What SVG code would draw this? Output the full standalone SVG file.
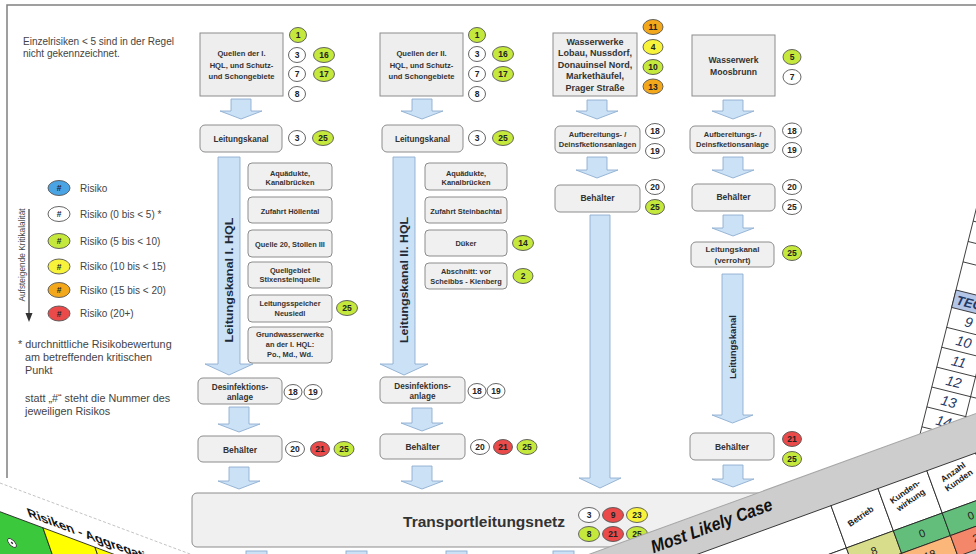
<svg xmlns="http://www.w3.org/2000/svg" width="976" height="554" viewBox="0 0 976 554">
<defs>
<style>
text{font-family:"Liberation Sans",Arial,sans-serif}
.sq{fill:#eeeeee;stroke:#8c8c8c;stroke-width:1}
.rb{fill:#f0f0f0;stroke:#8c8c8c;stroke-width:1}
.t{font-weight:bold;fill:#333;text-anchor:middle}
.ar{fill:#cae1f6;stroke:#8eaed0;stroke-width:0.9}
.bd{stroke:#555;stroke-width:0.9}
.w{fill:#fff}.g{fill:#c4e83c}.y{fill:#f7f23a}.o{fill:#f3a81c}.r{fill:#ea4a4a}.bl{fill:#4aa3e3}
.bt{font-weight:bold;font-size:8.5px;fill:#222;text-anchor:middle}
.lg{font-size:10px;fill:#444}
.fn{font-size:10.8px;fill:#444}
.vt{font-weight:bold;fill:#1f2a38;text-anchor:middle}
.cl{stroke:#222;stroke-width:0.8}
</style>
</defs>
<rect width="976" height="554" fill="#fff"/>
<path d="M7,478 V5 H976" stroke="#808080" stroke-width="1.5" fill="none"/>

<!-- legend -->
<g id="legend">
<text class="lg" x="23" y="45">Einzelrisiken &lt; 5 sind in der Regel</text>
<text class="lg" x="23" y="57">nicht gekennzeichnet.</text>
<ellipse class="bd bl" cx="59" cy="188" rx="11" ry="7.5"/><text class="bt" x="59" y="191">#</text><text class="lg" x="80" y="191.5">Risiko</text>
<ellipse class="bd w" cx="59" cy="214" rx="11" ry="7.5"/><text class="bt" x="59" y="217">#</text><text class="lg" x="80" y="217.5">Risiko (0 bis &lt; 5) *</text>
<ellipse class="bd g" cx="59" cy="241" rx="11" ry="7.5"/><text class="bt" x="59" y="244">#</text><text class="lg" x="80" y="244.5">Risiko (5 bis &lt; 10)</text>
<ellipse class="bd y" cx="59" cy="266.5" rx="11" ry="7.5"/><text class="bt" x="59" y="269.5">#</text><text class="lg" x="80" y="270">Risiko (10 bis &lt; 15)</text>
<ellipse class="bd o" cx="59" cy="290" rx="11" ry="7.5"/><text class="bt" x="59" y="293">#</text><text class="lg" x="80" y="293.5">Risiko (15 bis &lt; 20)</text>
<ellipse class="bd r" cx="59" cy="313.5" rx="11" ry="7.5"/><text class="bt" x="59" y="316.5">#</text><text class="lg" x="80" y="317">Risiko (20+)</text>
<line x1="29" y1="209" x2="29" y2="314" stroke="#333" stroke-width="1.2"/>
<path d="M25.5,313 L32.5,313 L29,322 Z" fill="#333"/>
<text transform="translate(25,255) rotate(-90)" font-size="8.3" fill="#444" text-anchor="middle">Aufsteigende Kritikalalität</text>
<text class="fn" x="18" y="348">* durchnittliche Risikobewertung</text>
<text class="fn" x="25" y="361">am betreffenden kritischen</text>
<text class="fn" x="25" y="374">Punkt</text>
<text class="fn" x="25" y="402">statt „#“ steht die Nummer des</text>
<text class="fn" x="25" y="415">jeweiligen Risikos</text>
</g>

<!-- connectors -->
<g id="connectors">
<path class="ar" d="M231,99 H251 V111 H262 L241,119 L220,111 H231 Z"/>
<path class="ar" d="M218,157 H240 V364 H253 L229,375 L205,364 H218 Z"/>
<path class="ar" d="M229,407 H249 V424 H260 L239,432 L218,424 H229 Z"/>
<path class="ar" d="M229,467 H249 V481 H260 L239,489 L218,481 H229 Z"/>
<path class="ar" d="M412,99 H432 V111 H443 L422,119 L401,111 H412 Z"/>
<path class="ar" d="M393,157 H415 V364 H428 L404,375 L380,364 H393 Z"/>
<path class="ar" d="M412,408 H432 V423 H443 L422,431 L401,423 H412 Z"/>
<path class="ar" d="M412,466 H432 V481 H443 L422,489 L401,481 H412 Z"/>
<path class="ar" d="M587,100 H607 V111 H618 L597,119 L576,111 H587 Z"/>
<path class="ar" d="M587,157 H607 V170 H618 L597,178 L576,170 H587 Z"/>
<path class="ar" d="M590,215 H610 V478 H621 L600,488 L579,478 H590 Z"/>
<path class="ar" d="M723,100 H743 V111 H754 L733,119 L712,111 H723 Z"/>
<path class="ar" d="M723,157 H743 V170 H754 L733,178 L712,170 H723 Z"/>
<path class="ar" d="M723,215 H743 V228 H754 L733,236 L712,228 H723 Z"/>
<path class="ar" d="M722,274 H743 V415 H753 L732.5,423 L712,415 H722 Z"/>
<path class="ar" d="M723,465 H743 V479 H754 L733,487 L712,479 H723 Z"/>
<rect class="ar" x="246" y="551" width="21" height="10"/>
<rect class="ar" x="346" y="551" width="21" height="10"/>
<rect class="ar" x="446" y="551" width="21" height="10"/>
<rect class="ar" x="553" y="551" width="21" height="10"/>
<text class="vt" font-size="11.5" transform="translate(233,280) rotate(-90)" textLength="125" lengthAdjust="spacingAndGlyphs">Leitungskanal I. HQL</text>
<text class="vt" font-size="11.5" transform="translate(408,280) rotate(-90)" textLength="126" lengthAdjust="spacingAndGlyphs">Leitungskanal II. HQL</text>
<text class="vt" font-size="9.5" transform="translate(736,347) rotate(-90)">Leitungskanal</text>
</g>

<!-- column 1 -->
<g id="quellen1">
<rect class="sq" x="200" y="33" width="83" height="63"/>
<text class="t" font-size="7.6"><tspan x="241.5" y="56">Quellen der I.</tspan><tspan x="241.5" y="67.5">HQL, und Schutz-</tspan><tspan x="241.5" y="79">und Schongebiete</tspan></text>
<ellipse class="bd g" cx="298" cy="35" rx="8.5" ry="7.5"/><text class="bt" x="298" y="38">1</text>
<ellipse class="bd w" cx="297" cy="55" rx="8.5" ry="7.5"/><text class="bt" x="297" y="58">3</text>
<ellipse class="bd g" cx="324" cy="55" rx="10.5" ry="7.5"/><text class="bt" x="324" y="58">16</text>
<ellipse class="bd w" cx="297" cy="74" rx="8.5" ry="7.5"/><text class="bt" x="297" y="77">7</text>
<ellipse class="bd g" cx="324" cy="74" rx="10.5" ry="7.5"/><text class="bt" x="324" y="77">17</text>
<ellipse class="bd w" cx="297" cy="94" rx="8.5" ry="7.5"/><text class="bt" x="297" y="97">8</text>
</g>
<g id="leitungskanal1">
<rect class="rb" x="200" y="125" width="82" height="27" rx="5"/>
<text class="t" font-size="8.2" x="241" y="141.5">Leitungskanal</text>
<ellipse class="bd w" cx="297" cy="138" rx="8.5" ry="7.5"/><text class="bt" x="297" y="141">3</text>
<ellipse class="bd g" cx="323" cy="138" rx="10.5" ry="7.5"/><text class="bt" x="323" y="141">25</text>
</g>
<g id="aquaedukte1"><rect class="rb" x="248" y="163" width="84" height="27" rx="4"/>
<text class="t" font-size="7.4"><tspan x="290" y="175.5">Aquädukte,</tspan><tspan x="290" y="185">Kanalbrücken</tspan></text></g>
<g id="zufahrt1"><rect class="rb" x="248" y="197" width="84" height="26" rx="4"/>
<text class="t" font-size="7.4" x="290" y="213.5">Zufahrt Höllental</text></g>
<g id="quelle20"><rect class="rb" x="248" y="230" width="84" height="27" rx="4"/>
<text class="t" font-size="7.4" x="290" y="246.5">Quelle 20, Stollen III</text></g>
<g id="quellgebiet"><rect class="rb" x="248" y="262" width="84" height="26" rx="4"/>
<text class="t" font-size="7.4"><tspan x="290" y="272.5">Quellgebiet</tspan><tspan x="290" y="282">Stixensteinquelle</tspan></text></g>
<g id="speicher"><rect class="rb" x="248" y="295" width="84" height="27" rx="4"/>
<text class="t" font-size="7.4"><tspan x="290" y="305.5">Leitungsspeicher</tspan><tspan x="290" y="316">Neusiedl</tspan></text>
<ellipse class="bd g" cx="347" cy="308" rx="10.5" ry="7.5"/><text class="bt" x="347" y="311">25</text></g>
<g id="grundwasser"><rect class="rb" x="248" y="327" width="84" height="36" rx="4"/>
<text class="t" font-size="7.4"><tspan x="290" y="337">Grundwasserwerke</tspan><tspan x="290" y="347">an der I. HQL:</tspan><tspan x="290" y="357">Po., Md., Wd.</tspan></text></g>
<g id="desinf1"><rect class="rb" x="198" y="378" width="84" height="26" rx="5"/>
<text class="t" font-size="8.2"><tspan x="240" y="389.5">Desinfektions-</tspan><tspan x="240" y="399.5">anlage</tspan></text>
<ellipse class="bd w" cx="293" cy="392" rx="9" ry="7.5"/><text class="bt" x="293" y="395">18</text>
<ellipse class="bd w" cx="313" cy="392" rx="9" ry="7.5"/><text class="bt" x="313" y="395">19</text></g>
<g id="behaelter1"><rect class="rb" x="198" y="436" width="84" height="26" rx="5"/>
<text class="t" font-size="8.5" x="240" y="452.5">Behälter</text>
<ellipse class="bd w" cx="295" cy="449" rx="9.5" ry="7.5"/><text class="bt" x="295" y="452">20</text>
<ellipse class="bd r" cx="320" cy="449" rx="9.5" ry="7.5"/><text class="bt" x="320" y="452">21</text>
<ellipse class="bd g" cx="344" cy="449" rx="10" ry="7.5"/><text class="bt" x="344" y="452">25</text></g>

<!-- column 2 -->
<g id="quellen2">
<rect class="sq" x="380" y="33" width="83" height="63"/>
<text class="t" font-size="7.6"><tspan x="421.5" y="56">Quellen der II.</tspan><tspan x="421.5" y="67.5">HQL, und Schutz-</tspan><tspan x="421.5" y="79">und Schongebiete</tspan></text>
<ellipse class="bd g" cx="477" cy="35" rx="8.5" ry="7.5"/><text class="bt" x="477" y="38">1</text>
<ellipse class="bd w" cx="477" cy="54" rx="8.5" ry="7.5"/><text class="bt" x="477" y="57">3</text>
<ellipse class="bd g" cx="503" cy="54" rx="10.5" ry="7.5"/><text class="bt" x="503" y="57">16</text>
<ellipse class="bd w" cx="477" cy="74" rx="8.5" ry="7.5"/><text class="bt" x="477" y="77">7</text>
<ellipse class="bd g" cx="503" cy="74" rx="10.5" ry="7.5"/><text class="bt" x="503" y="77">17</text>
<ellipse class="bd w" cx="477" cy="94" rx="8.5" ry="7.5"/><text class="bt" x="477" y="97">8</text>
</g>
<g id="leitungskanal2">
<rect class="rb" x="382" y="125" width="81" height="27" rx="5"/>
<text class="t" font-size="8.2" x="422.5" y="141.5">Leitungskanal</text>
<ellipse class="bd w" cx="477" cy="138" rx="8.5" ry="7.5"/><text class="bt" x="477" y="141">3</text>
<ellipse class="bd g" cx="503" cy="138" rx="10.5" ry="7.5"/><text class="bt" x="503" y="141">25</text>
</g>
<g id="aquaedukte2"><rect class="rb" x="425" y="163" width="82" height="27" rx="4"/>
<text class="t" font-size="7.4"><tspan x="466" y="175.5">Aquädukte,</tspan><tspan x="466" y="185">Kanalbrücken</tspan></text></g>
<g id="zufahrt2"><rect class="rb" x="425" y="197" width="82" height="26" rx="4"/>
<text class="t" font-size="7.4" x="466" y="213.5">Zufahrt Steinbachtal</text></g>
<g id="dueker"><rect class="rb" x="425" y="230" width="82" height="26" rx="4"/>
<text class="t" font-size="7.4" x="466" y="246">Düker</text>
<ellipse class="bd g" cx="523" cy="243" rx="10.5" ry="7.5"/><text class="bt" x="523" y="246">14</text></g>
<g id="abschnitt"><rect class="rb" x="425" y="263" width="82" height="26" rx="4"/>
<text class="t" font-size="7.4"><tspan x="466" y="273.5">Abschnitt: vor</tspan><tspan x="466" y="283.5">Scheibbs - Kienberg</tspan></text>
<ellipse class="bd g" cx="523" cy="276" rx="10" ry="7.5"/><text class="bt" x="523" y="279">2</text></g>
<g id="desinf2"><rect class="rb" x="380" y="377" width="85" height="26" rx="5"/>
<text class="t" font-size="8.2"><tspan x="422.5" y="388.5">Desinfektions-</tspan><tspan x="422.5" y="399">anlage</tspan></text>
<ellipse class="bd w" cx="477" cy="391" rx="9" ry="7.5"/><text class="bt" x="477" y="394">18</text>
<ellipse class="bd w" cx="496" cy="391" rx="9" ry="7.5"/><text class="bt" x="496" y="394">19</text></g>
<g id="behaelter2"><rect class="rb" x="380" y="434" width="85" height="25" rx="5"/>
<text class="t" font-size="8.5" x="422.5" y="450">Behälter</text>
<ellipse class="bd w" cx="480" cy="447" rx="9.5" ry="7.5"/><text class="bt" x="480" y="450">20</text>
<ellipse class="bd r" cx="503" cy="447" rx="9.5" ry="7.5"/><text class="bt" x="503" y="450">21</text>
<ellipse class="bd g" cx="527" cy="447" rx="10" ry="7.5"/><text class="bt" x="527" y="450">25</text></g>

<!-- column 3 -->
<g id="wasserwerke">
<rect class="sq" x="553" y="33" width="84" height="63"/>
<text class="t" font-size="9"><tspan x="595" y="44.5">Wasserwerke</tspan><tspan x="595" y="56">Lobau, Nussdorf,</tspan><tspan x="595" y="67.5">Donauinsel Nord,</tspan><tspan x="595" y="79">Markethäufel,</tspan><tspan x="595" y="90.5">Prager Straße</tspan></text>
<ellipse class="bd o" cx="653" cy="27" rx="10" ry="7.5"/><text class="bt" x="653" y="30">11</text>
<ellipse class="bd y" cx="653" cy="47" rx="10" ry="7.5"/><text class="bt" x="653" y="50">4</text>
<ellipse class="bd g" cx="653" cy="67" rx="10" ry="7.5"/><text class="bt" x="653" y="70">10</text>
<ellipse class="bd o" cx="653" cy="86.5" rx="10" ry="7.5"/><text class="bt" x="653" y="89.5">13</text>
</g>
<g id="aufbereitung3"><rect class="rb" x="555" y="126" width="85" height="27" rx="5"/>
<text class="t" font-size="7.5"><tspan x="597.5" y="136.5">Aufbereitungs- /</tspan><tspan x="597.5" y="146.5">Deinsfketionsanlagen</tspan></text>
<ellipse class="bd w" cx="655" cy="131" rx="9.5" ry="7.5"/><text class="bt" x="655" y="134">18</text>
<ellipse class="bd w" cx="655" cy="151" rx="9.5" ry="7.5"/><text class="bt" x="655" y="154">19</text></g>
<g id="behaelter3"><rect class="rb" x="555" y="185" width="85" height="27" rx="5"/>
<text class="t" font-size="8.5" x="597.5" y="200.5">Behälter</text>
<ellipse class="bd w" cx="655" cy="187" rx="9.5" ry="7.5"/><text class="bt" x="655" y="190">20</text>
<ellipse class="bd g" cx="655" cy="207" rx="9.5" ry="7.5"/><text class="bt" x="655" y="210">25</text></g>

<!-- column 4 -->
<g id="moosbrunn">
<rect class="sq" x="692" y="35" width="83" height="61"/>
<text class="t" font-size="8.6"><tspan x="733.5" y="63">Wasserwerk</tspan><tspan x="733.5" y="74.5">Moosbrunn</tspan></text>
<ellipse class="bd g" cx="792" cy="57" rx="9" ry="7.5"/><text class="bt" x="792" y="60">5</text>
<ellipse class="bd w" cx="792" cy="77" rx="9" ry="7.5"/><text class="bt" x="792" y="80">7</text>
</g>
<g id="aufbereitung4"><rect class="rb" x="690" y="126" width="85" height="27" rx="5"/>
<text class="t" font-size="7.5"><tspan x="732.5" y="136.5">Aufbereitungs- /</tspan><tspan x="732.5" y="146.5">Deinsfketionsanlage</tspan></text>
<ellipse class="bd w" cx="792" cy="130.5" rx="9.5" ry="7.5"/><text class="bt" x="792" y="133.5">18</text>
<ellipse class="bd w" cx="792" cy="150" rx="9.5" ry="7.5"/><text class="bt" x="792" y="153">19</text></g>
<g id="behaelter4"><rect class="rb" x="692" y="184" width="83" height="27" rx="5"/>
<text class="t" font-size="8.5" x="733.5" y="200">Behälter</text>
<ellipse class="bd w" cx="792" cy="187" rx="9.5" ry="7.5"/><text class="bt" x="792" y="190">20</text>
<ellipse class="bd w" cx="792" cy="207" rx="9.5" ry="7.5"/><text class="bt" x="792" y="210">25</text></g>
<g id="verrohrt"><rect class="rb" x="691" y="242" width="83" height="25" rx="5"/>
<text class="t" font-size="8"><tspan x="732.5" y="251.5">Leitungskanal</tspan><tspan x="732.5" y="263">(verrohrt)</tspan></text>
<ellipse class="bd g" cx="792" cy="253" rx="9.5" ry="7.5"/><text class="bt" x="792" y="256">25</text></g>
<g id="behaelter5"><rect class="rb" x="690" y="433" width="84" height="27" rx="5"/>
<text class="t" font-size="8.5" x="732" y="449.5">Behälter</text>
<ellipse class="bd r" cx="792" cy="439" rx="9.5" ry="7.5"/><text class="bt" x="792" y="442">21</text>
<ellipse class="bd g" cx="792" cy="459" rx="9.5" ry="7.5"/><text class="bt" x="792" y="462">25</text></g>

<!-- transport -->
<g id="transport">
<rect class="rb" x="192" y="493" width="680" height="54" rx="5"/>
<text class="t" font-size="15.5" fill="#222" x="484" y="527">Transportleitungsnetz</text>
<ellipse class="bd w" cx="589" cy="515" rx="10.5" ry="7.5"/><text class="bt" x="589" y="518">3</text>
<ellipse class="bd r" cx="613" cy="515" rx="10.5" ry="7.5"/><text class="bt" x="613" y="518">9</text>
<ellipse class="bd y" cx="637" cy="515" rx="10.5" ry="7.5"/><text class="bt" x="637" y="518">23</text>
<ellipse class="bd g" cx="589" cy="534" rx="10.5" ry="7.5"/><text class="bt" x="589" y="537">8</text>
<ellipse class="bd r" cx="613" cy="534" rx="10.5" ry="7.5"/><text class="bt" x="613" y="537">21</text>
<ellipse class="bd g" cx="637" cy="534" rx="10.5" ry="7.5"/><text class="bt" x="637" y="537">25</text>
</g>

<!-- overlay: table right -->
<g id="tabelle" transform="translate(956,290) rotate(14)">
<rect x="0" y="-100" width="120" height="270" fill="#fff" class="cl"/>
<path class="cl" d="M0,-71 H120 M0,-50 H120 M0,-29 H120"/>
<rect x="0" y="0" width="120" height="18" fill="#b4c6e7" class="cl"/>
<path class="cl" d="M0,38.5 H120 M0,59 H120 M0,79.5 H120 M0,100 H120 M0,120.5 H120 M0,141 H120 M40,18 V170"/>
<text x="3" y="14" font-size="13" font-weight="bold" font-style="italic" fill="#1f3864">TEC</text>
<g font-size="14" font-style="italic" fill="#1f3864" text-anchor="middle">
<text x="20" y="33">9</text><text x="20" y="53.5">10</text><text x="20" y="74">11</text><text x="20" y="94.5">12</text><text x="20" y="115">13</text><text x="20" y="135.5">14</text>
</g>
</g>

<!-- overlay: Most Likely Case -->
<g id="mostlikely" transform="translate(590,554) rotate(-20)">
<rect x="-80" y="0" width="720" height="320" fill="#cdcdcd" stroke="#a6a6a6"/>
<text x="60" y="21" font-size="18" font-weight="bold" font-style="italic" fill="#111" textLength="128" lengthAdjust="spacingAndGlyphs">Most Likely Case</text>
<rect x="40" y="37" width="203" height="45" fill="#fff" class="cl"/>
<rect x="243" y="37" width="50" height="45" fill="#fff" class="cl"/>
<rect x="293" y="37" width="52" height="45" fill="#fff" class="cl"/>
<rect x="345" y="37" width="52" height="45" fill="#fff" class="cl"/>
<rect x="397" y="37" width="55" height="45" fill="#fff" class="cl"/>
<g font-size="8.5" font-weight="bold" fill="#222" text-anchor="middle">
<text transform="translate(268,60) rotate(-15)">Betrieb</text>
<text transform="translate(318,52) rotate(-15)"><tspan x="0" y="0">Kunden-</tspan><tspan x="0" y="10">wirkung</tspan></text>
<text transform="translate(370,50) rotate(-15)"><tspan x="0" y="0">Anzahl</tspan><tspan x="0" y="10">Kunden</tspan></text>
</g>
<rect x="40" y="82" width="203" height="24" fill="#fff" class="cl"/>
<rect x="243" y="82" width="50" height="24" fill="#d7dd8a" class="cl"/>
<rect x="293" y="82" width="52" height="24" fill="#63be7b" class="cl"/>
<rect x="345" y="82" width="52" height="24" fill="#63be7b" class="cl"/>
<rect x="397" y="82" width="55" height="24" fill="#63be7b" class="cl"/>
<rect x="243" y="106" width="50" height="22" fill="#fbb77a" class="cl"/>
<rect x="293" y="106" width="52" height="22" fill="#fbb77a" class="cl"/>
<rect x="345" y="106" width="52" height="22" fill="#f4866a" class="cl"/>
<g font-size="11" fill="#222" text-anchor="middle">
<text x="268" y="98">8</text><text x="319" y="98">0</text><text x="371" y="98">0</text>
<text x="319" y="121">18</text>
</g>
<text x="365" y="121" font-size="11" fill="#222">2</text>
</g>

<!-- overlay: Risiken - Aggregation -->
<g id="aggregation" transform="matrix(0.937,0.35,0.33,0.944,0,483)">
<rect x="-120" y="0" width="420" height="200" fill="#fff" stroke="#bbbbbb" stroke-width="0.8" stroke-dasharray="3 2"/>
<text x="21" y="28" font-size="14" font-weight="bold" fill="#111">Risiken - Aggregation</text>
<rect x="-120" y="35" width="153.5" height="90" fill="#3cc83c" class="cl"/>
<rect x="33.5" y="35" width="55.5" height="90" fill="#ffff00" class="cl"/>
<rect x="89" y="35" width="56" height="90" fill="#ffff00" class="cl"/>
<circle cx="-11" cy="67.6" r="4.5" fill="#fff" stroke="#333" stroke-width="0.8"/>
<circle cx="-11" cy="67.6" r="1.2" fill="#333"/>
</g>
</svg>
